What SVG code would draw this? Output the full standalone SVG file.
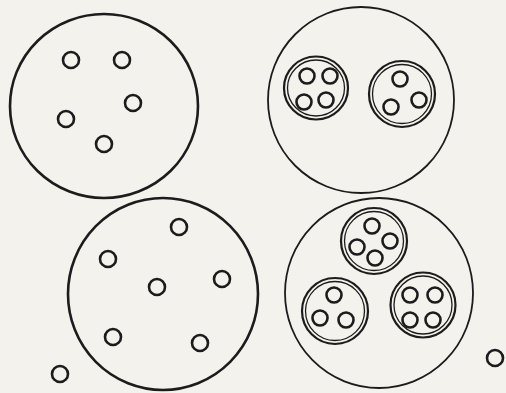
<svg xmlns="http://www.w3.org/2000/svg" width="506" height="393" viewBox="0 0 506 393">
<style>
.big{fill:none;stroke:#1c1c1c;stroke-width:2.6}
.bigt{fill:none;stroke:#1c1c1c;stroke-width:1.8}
.grp{fill:none;stroke:#1c1c1c;stroke-width:2.2}
.grpi{fill:none;stroke:#1c1c1c;stroke-width:1.3}
.s{fill:none;stroke:#1c1c1c;stroke-width:2.6}
</style>
<rect width="506" height="393" fill="#f3f2ec"/>
<g id="cell-tl">
<ellipse class="big" cx="104" cy="106" rx="94" ry="92"/>
<circle class="s" cx="71" cy="60" r="8"/>
<circle class="s" cx="122" cy="60" r="8"/>
<circle class="s" cx="133" cy="103" r="8"/>
<circle class="s" cx="66" cy="119" r="8"/>
<circle class="s" cx="104" cy="144" r="8"/>
</g>
<g id="cell-tr">
<ellipse class="bigt" cx="361" cy="100" rx="93" ry="93"/>
<g id="group-tr-1">
<ellipse class="grp" cx="316" cy="88" rx="32" ry="31.5"/>
<ellipse class="grpi" cx="316" cy="88" rx="28.5" ry="28"/>
<circle class="s" cx="307" cy="76" r="7.5"/>
<circle class="s" cx="330" cy="76" r="7.5"/>
<circle class="s" cx="304" cy="102" r="7.5"/>
<circle class="s" cx="326" cy="100" r="7.5"/>
</g>
<g id="group-tr-2">
<circle class="grp" cx="402" cy="94" r="33"/>
<circle class="grpi" cx="402" cy="94" r="29.5"/>
<circle class="s" cx="400" cy="79" r="7.5"/>
<circle class="s" cx="391" cy="107" r="7.5"/>
<circle class="s" cx="419" cy="100" r="7.5"/>
</g>
</g>
<g id="cell-bl">
<ellipse class="big" cx="163" cy="294" rx="95" ry="96"/>
<circle class="s" cx="179" cy="227" r="8"/>
<circle class="s" cx="108" cy="259" r="8"/>
<circle class="s" cx="157" cy="287" r="8"/>
<circle class="s" cx="222" cy="279" r="8"/>
<circle class="s" cx="113" cy="337" r="8"/>
<circle class="s" cx="200" cy="343" r="8"/>
</g>
<g id="free-l">
<circle class="s" cx="60" cy="374" r="8"/>
</g>
<g id="cell-br">
<ellipse class="bigt" cx="379" cy="293" rx="94" ry="95"/>
<g id="group-br-1">
<circle class="grp" cx="374" cy="241" r="33"/>
<circle class="grpi" cx="374" cy="241" r="29.5"/>
<circle class="s" cx="372" cy="226" r="7.5"/>
<circle class="s" cx="390" cy="241" r="7.5"/>
<circle class="s" cx="357" cy="247" r="7.5"/>
<circle class="s" cx="375" cy="258" r="7.5"/>
</g>
<g id="group-br-2">
<circle class="grp" cx="335" cy="311" r="33"/>
<circle class="grpi" cx="335" cy="311" r="29.5"/>
<circle class="s" cx="334" cy="295" r="7.5"/>
<circle class="s" cx="320" cy="318" r="7.5"/>
<circle class="s" cx="346" cy="320" r="7.5"/>
</g>
<g id="group-br-3">
<circle class="grp" cx="423" cy="305" r="32.5"/>
<circle class="grpi" cx="423" cy="305" r="29"/>
<circle class="s" cx="410" cy="295" r="7.5"/>
<circle class="s" cx="435" cy="295" r="7.5"/>
<circle class="s" cx="410" cy="320" r="7.5"/>
<circle class="s" cx="433" cy="320" r="7.5"/>
</g>
</g>
<g id="free-r">
<circle class="s" cx="495" cy="358" r="8"/>
</g>
<g id="connectors"/>
</svg>
